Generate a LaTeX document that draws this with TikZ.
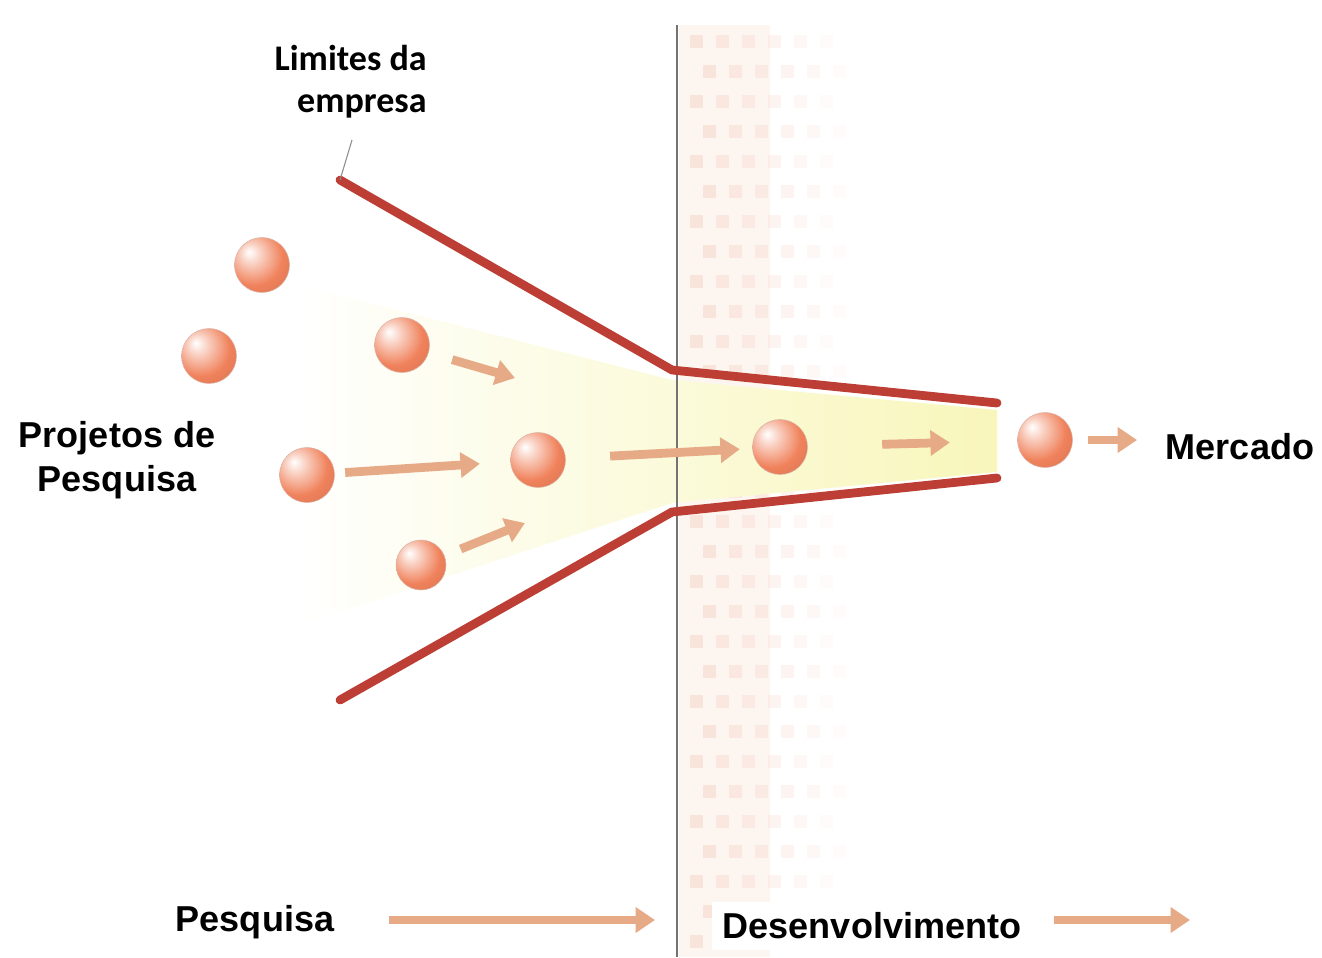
\documentclass[tikz,border=0pt]{standalone}
\usepackage{fontspec}
\setmainfont{Liberation Sans}
\newfontfamily\limfont{Carlito}
\usetikzlibrary{arrows.meta,positioning,shadings}

\definecolor{funnelred}{RGB}{188,62,52}
\definecolor{flowtan}{RGB}{230,170,135}
\definecolor{ballsalmon}{RGB}{240,130,92}
\definecolor{glowyellow}{RGB}{248,246,186}
\definecolor{gridpink}{RGB}{244,200,190}
\definecolor{gridbase}{RGB}{253,246,240}

\pgfdeclareradialshading{salmonball}{\pgfpoint{-12bp}{12bp}}{%
  color(0bp)=(white);
  color(10bp)=(ballsalmon!40!white);
  color(26bp)=(ballsalmon);
  color(44bp)=(ballsalmon!88!black);
  color(56bp)=(ballsalmon!55!white);
  color(70bp)=(ballsalmon!40!white)}

\begin{document}
\begin{tikzpicture}[
x=0.02cm, y=-0.02cm,
ball/.style={
    circle,
    shading=salmonball,
    draw=ballsalmon!60!gray!60,
    line width=0.3pt,
    minimum size=1.1cm,
    inner sep=0pt
    },
smallball/.style={ball, minimum size=1.0cm},
flow/.style={flowtan, line width=5pt, -{Triangle[length=11pt,width=14pt]}},
wall/.style={funnelred, line width=5pt, line cap=round, line join=round},
divider/.style={black!55, line width=1.5pt},
leader/.style={black!45, line width=0.6pt},
lbl/.style={font=\bfseries\fontsize{20.5}{25}\selectfont, align=center, inner sep=6pt}
]

\useasboundingbox (0,0) rectangle (1322,957);

\fill[gridbase] (679,25) rectangle (770,957);
\foreach \i [evaluate=\i as \op using 0.38-0.06*\i] in {0,...,5}
  \foreach \j in {0,...,30}
    \fill[gridpink, opacity=\op] ({690+\i*26+mod(\j,2)*13},{35+\j*30}) rectangle ++(13,13);

\begin{scope}
  \clip (300,285) -- (672,380) -- (997,410) -- (997,472) -- (672,503) -- (300,625) -- cycle;
  \shade[left color=white, right color=glowyellow] (290,270) rectangle (1005,640);
\end{scope}

\coordinate (walltop) at (677,25);
\coordinate (wallbot) at (677,957);
\draw[divider] (walltop) -- (wallbot);

\coordinate (ut) at (340,180);
\coordinate (um) at (672,370);
\coordinate (ue) at (997,403);
\coordinate (lt) at (340,700);
\coordinate (lm) at (672,512);
\coordinate (le) at (997,478);
\draw[wall] (ut) -- (um) -- (ue);
\draw[wall] (lt) -- (lm) -- (le);

\node[lbl, align=right, font=\limfont\bfseries\fontsize{20.5}{24}\selectfont, anchor=east, inner sep=0pt] (limites) at (427,82) {Limites da\\empresa};
\coordinate (leadtop) at (352,140);
\draw[leader] (leadtop) -- (ut);

\node[ball] (b1) at (262,265) {};
\node[ball] (b2) at (209,356) {};
\node[ball] (b3) at (402,345) {};
\node[ball] (b4) at (307,475) {};
\node[ball] (b5) at (538,460) {};
\node[smallball] (b6) at (421,565) {};
\node[ball] (b7) at (780,447) {};
\node[ball] (b8) at (1045,440) {};

\node[lbl] (projetos) at (117,460) {Projetos de\\Pesquisa};
\node[lbl] (mercado) at (1240,447) {Mercado};

\coordinate (c1) at (515,378);
\coordinate (c3) at (525,523);
\draw[flow, shorten <=0.49cm] (b3) -- (c1);
\draw[flow, shorten <=0.21cm, shorten >=0.61cm] (b4) -- (b5);
\draw[flow, shorten <=0.35cm] (b6) -- (c3);
\draw[flow, shorten <=0.89cm, shorten >=0.25cm] (b5) -- (b7);
\draw[flow, shorten <=1.49cm, shorten >=1.35cm] (b7) -- (b8);
\draw[flow, shorten <=0.31cm, shorten >=0.36cm] (b8) -- (b8 -| mercado.west);

\node[lbl, fill=white] (pesquisa) at (255,922) {Pesquisa};
\node[lbl, fill=white] (desenv) at (872,926) {Desenvolvimento};
\coordinate (pesqend) at (655,920);
\coordinate (desend) at (1190,920);
\draw[flow, shorten <=0.88cm] (pesquisa.east |- pesqend) -- (pesqend);
\draw[flow, shorten <=0.44cm] (desenv.east |- desend) -- (desend);

\end{tikzpicture}
\end{document}
